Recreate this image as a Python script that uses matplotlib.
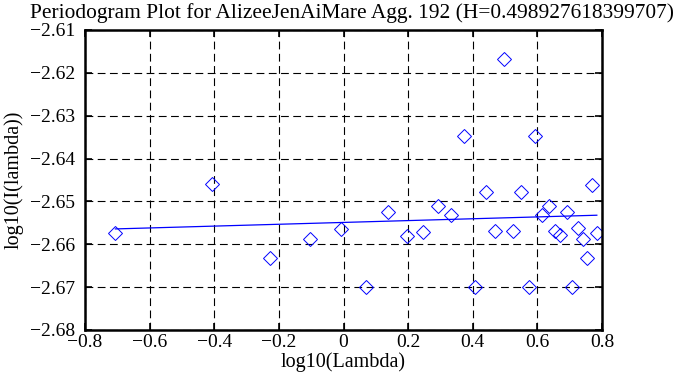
import matplotlib
matplotlib.use('Agg')
import matplotlib.pyplot as plt
import numpy as np

# periodogram points (log10 frequency, log10 power)
log_lambda = [-0.706, -0.406, -0.229, -0.105, -0.008, 0.071, 0.137, 0.195, 0.245,
              0.292, 0.333, 0.374, 0.407, 0.440, 0.470, 0.498, 0.525, 0.548,
              0.573, 0.593, 0.615, 0.637, 0.654, 0.671, 0.692, 0.708, 0.725,
              0.740, 0.755, 0.770, 0.784]
log_power = [-2.6574, -2.6460, -2.6632, -2.6588, -2.6564, -2.6700, -2.6524, -2.6580,
             -2.6571, -2.6510, -2.6531, -2.6347, -2.6700, -2.6479, -2.6568, -2.6168,
             -2.6568, -2.6479, -2.6700, -2.6347, -2.6532, -2.6510, -2.6568, -2.6578,
             -2.6524, -2.6700, -2.6563, -2.6588, -2.6632, -2.6461, -2.6573]

H = 0.498927618399707
fit_slope = 1 - 2 * H
fit_intercept = -2.6549

xticks = [-0.8, -0.6, -0.4, -0.2, 0, 0.2, 0.4, 0.6, 0.8]
xlabels = ['\u22120.8', '\u22120.6', '\u22120.4', '\u22120.2', '0', '0.2', '0.4', '0.6', '0.8']
yticks = [-2.68, -2.67, -2.66, -2.65, -2.64, -2.63, -2.62, -2.61]
ylabels = ['\u22122.68', '\u22122.67', '\u22122.66', '\u22122.65', '\u22122.64',
           '\u22122.63', '\u22122.62', '\u22122.61']

plt.rcParams['font.family'] = ['Liberation Serif', 'DejaVu Serif']

fig = plt.figure(figsize=(6.87, 3.85), dpi=100)
ax = fig.add_axes([85/687, 1-330/385, 517/687, 300/385])

ax.plot(log_lambda, log_power, 'D', markersize=7.3, markerfacecolor='none',
        markeredgecolor='blue', markeredgewidth=0.7, linestyle='none')
xs = np.array([log_lambda[0], log_lambda[-1]])
ax.plot(xs, fit_intercept + fit_slope * xs, color='blue', linewidth=0.9)

ax.set_xlim(-0.8, 0.8)
ax.set_ylim(-2.68, -2.61)
ax.set_xticks(xticks)
ax.set_yticks(yticks)
ax.set_xticklabels(xlabels)
ax.set_yticklabels(ylabels)
ax.grid(True, color='black', linestyle=(0, (7, 4)), linewidth=0.8)
ax.tick_params(direction='in', length=5, width=1.2, top=True, right=True, labelsize=14)
ax.tick_params(axis='y', pad=7)
ax.tick_params(axis='x', pad=3)
for s in ax.spines.values():
    s.set_linewidth(1.8)

ax.set_title('Periodogram Plot for AlizeeJenAiMare Agg. 192 (H=0.498927618399707)',
             fontsize=15.4, pad=8.5, x=0.516)
ax.set_xlabel('log10(Lambda)', fontsize=14.5, labelpad=1)
ax.set_ylabel('log10(I(lambda))', fontsize=14.5, labelpad=5)

fig.savefig('out.png', dpi=100)
